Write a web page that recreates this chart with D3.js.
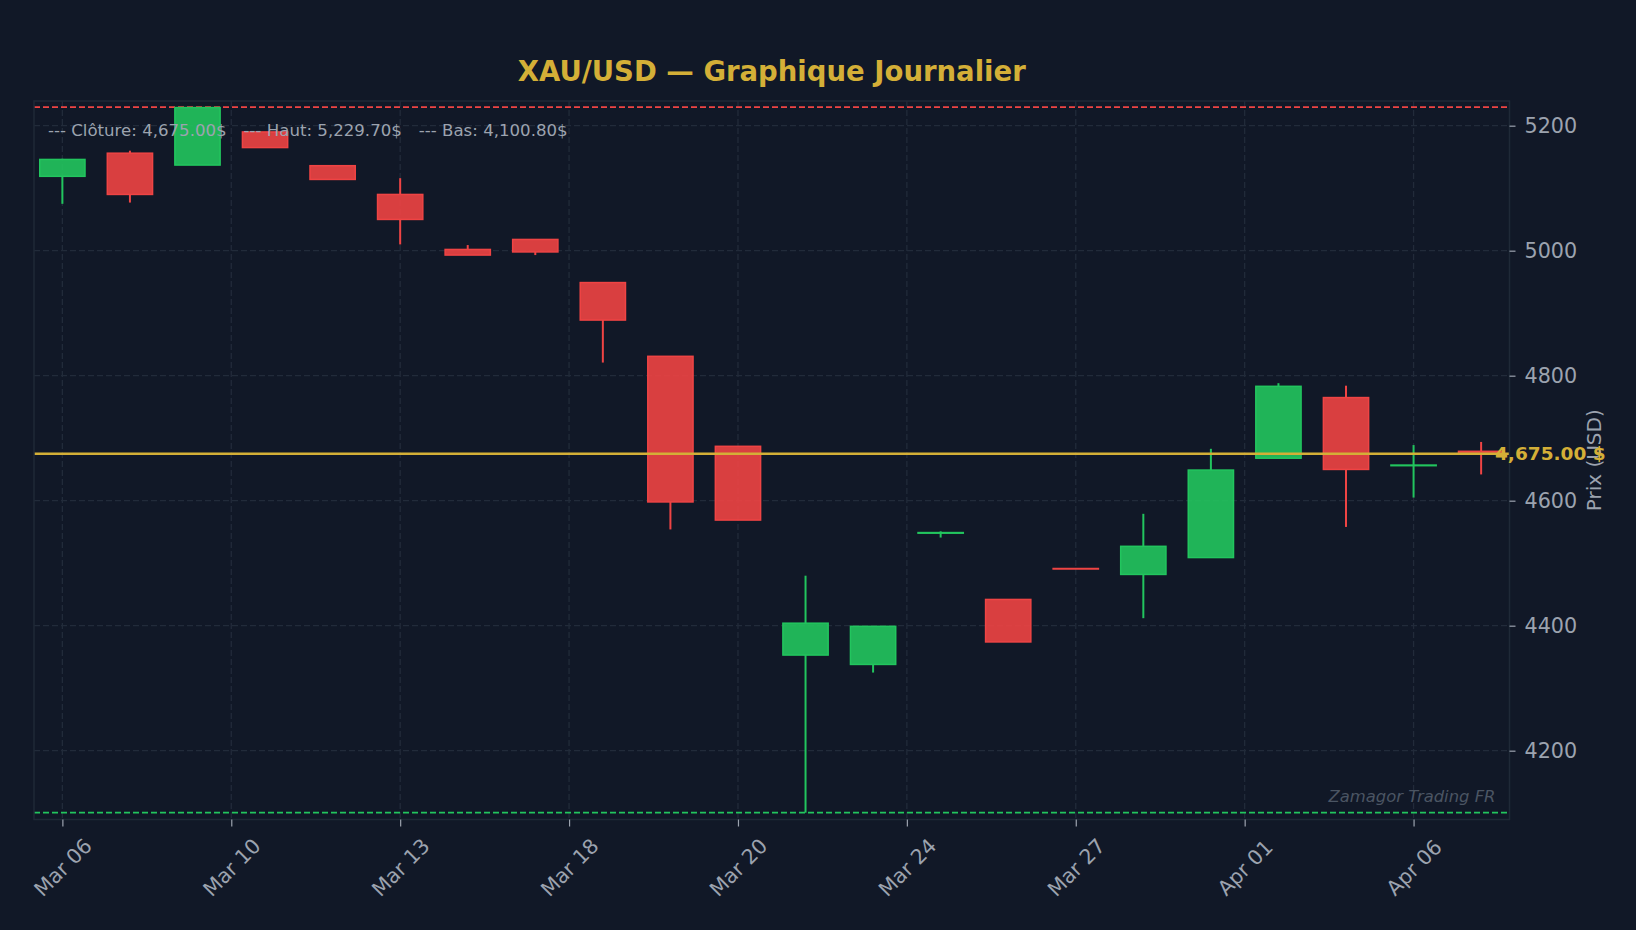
<!DOCTYPE html>
<html>
<head>
<meta charset="utf-8">
<script src="https://cdn.jsdelivr.net/npm/d3@7"></script>
<style>
  html, body { margin: 0; padding: 0; background: #111827; }
  svg { display: block; font-family: "DejaVu Sans", sans-serif; }
</style>
</head>
<body>
<svg id="chart"></svg>
<script>
// daily candles
const dates = ["Mar 06", "Mar 09", "Mar 10", "Mar 11", "Mar 12", "Mar 13", "Mar 16", "Mar 17", "Mar 18", "Mar 19", "Mar 20",
    "Mar 23", "Mar 24", "Mar 25", "Mar 26", "Mar 27", "Mar 30", "Mar 31", "Apr 01", "Apr 02", "Apr 06", "Apr 07"];
const opens = [5119, 5156, 5137, 5190, 5136, 5090, 5002, 5018, 4949, 4831, 4687,
    4353, 4338, 4548, 4442, 4491.5, 4482, 4509, 4668, 4765, 4656, 4679];
const highs = [5147, 5160, 5229.7, 5190, 5136, 5116, 5009, 5018, 4949, 4831, 4687,
    4480, 4399, 4551, 4442, 4491.5, 4579, 4683, 4788, 4784, 4689, 4694];
const lows = [5075, 5077, 5137, 5165, 5114, 5010, 4993, 4993, 4821, 4554, 4569,
    4100.8, 4325, 4541, 4374, 4491, 4412, 4509, 4668, 4558, 4605, 4642];
const closes = [5146, 5090, 5229, 5165, 5114, 5050, 4993, 4998, 4889, 4598, 4569,
    4404, 4399, 4549, 4374, 4491, 4527, 4649, 4783, 4650, 4657, 4675];

const xTickPos = [0, 2.5, 5, 7.5, 10, 12.5, 15, 17.5, 20];
const xTickLabels = ["Mar 06", "Mar 10", "Mar 13", "Mar 18", "Mar 20", "Mar 24", "Mar 27", "Apr 01", "Apr 06"];
const yTicks = [4200, 4400, 4600, 4800, 5000, 5200];

const lastClose = 4675.00;
const highMax = 5229.70;
const lowMin = 4100.80;

const up = "#22c55e", down = "#ef4444", gold = "#d4af37", txt = "#9ca3af";

const width = 1636, height = 930;
const margin = { top: 101, right: 126.5, bottom: 110.5, left: 34 };
const svg = d3.select("#chart").attr("width", width).attr("height", height);

svg.append("rect").attr("width", width).attr("height", height).attr("fill", "#111827");

const candles = dates.map((d, i) => ({ i, date: d, o: opens[i], h: highs[i], l: lows[i], c: closes[i] }));

const x = d3.scaleLinear().domain([-0.42, dates.length - 1 + 0.42]).range([margin.left, width - margin.right]);
const y = d3.scaleLinear().domain([4089.9, 5239.5]).range([height - margin.bottom, margin.top]);
const fmt = d3.format(",.2f");

const plotL = margin.left, plotR = width - margin.right, plotT = margin.top, plotB = height - margin.bottom;

// grid
const grid = svg.append("g");
grid.selectAll(".gy").data(yTicks).enter().append("line")
    .attr("x1", plotL).attr("x2", plotR)
    .attr("y1", d => y(d)).attr("y2", d => y(d))
    .attr("stroke", "#222b3a").attr("stroke-width", 1.3).attr("stroke-dasharray", "6,3");
grid.selectAll(".gx").data(xTickPos).enter().append("line")
    .attr("x1", d => x(d)).attr("x2", d => x(d))
    .attr("y1", plotT).attr("y2", plotB)
    .attr("stroke", "#222b3a").attr("stroke-width", 1.3).attr("stroke-dasharray", "6,3");

// high / low reference lines
svg.append("line").attr("x1", plotL).attr("x2", plotR).attr("y1", y(highMax)).attr("y2", y(highMax))
    .attr("stroke", down).attr("stroke-width", 1.7).attr("stroke-dasharray", "6,3");
svg.append("line").attr("x1", plotL).attr("x2", plotR).attr("y1", y(lowMin)).attr("y2", y(lowMin))
    .attr("stroke", up).attr("stroke-width", 1.7).attr("stroke-dasharray", "6,3");

// candles: wicks drawn only outside the body
const step = x(1) - x(0);
const bw = step * 0.67;
const col = d => d.c >= d.o ? up : down;
const cg = svg.append("g");
cg.selectAll(".wickHi").data(candles).enter().append("line")
    .attr("x1", d => x(d.i)).attr("x2", d => x(d.i))
    .attr("y1", d => y(d.h)).attr("y2", d => y(Math.max(d.o, d.c)))
    .attr("stroke", col).attr("stroke-width", 2);
cg.selectAll(".wickLo").data(candles).enter().append("line")
    .attr("x1", d => x(d.i)).attr("x2", d => x(d.i))
    .attr("y1", d => y(Math.min(d.o, d.c))).attr("y2", d => y(d.l))
    .attr("stroke", col).attr("stroke-width", 2);
cg.selectAll(".body").data(candles).enter().append("rect")
    .attr("x", d => x(d.i) - bw / 2)
    .attr("y", d => y(Math.max(d.o, d.c)))
    .attr("width", bw)
    .attr("height", d => Math.max(0.5, Math.abs(y(d.o) - y(d.c))))
    .attr("fill", col)
    .attr("fill-opacity", 0.9)
    .attr("stroke", col)
    .attr("stroke-width", 1.5);

// last close line
svg.append("line").attr("x1", plotL).attr("x2", plotR).attr("y1", y(lastClose)).attr("y2", y(lastClose))
    .attr("stroke", gold).attr("stroke-width", 2.5);

// frame
svg.append("rect").attr("x", plotL).attr("y", plotT).attr("width", plotR - plotL).attr("height", plotB - plotT)
    .attr("fill", "none").attr("stroke", "#1f2937").attr("stroke-width", 1.5);

// y axis on the right
const yAxis = svg.append("g").attr("transform", `translate(${plotR},0)`)
    .call(d3.axisRight(y).tickValues(yTicks).tickSize(6).tickPadding(9).tickFormat(d3.format("d")));
yAxis.select(".domain").remove();
yAxis.selectAll("line").attr("stroke", txt).attr("stroke-width", 1.2);
yAxis.selectAll("text").attr("fill", txt).style("font-size", "20.7px").style("font-family", "DejaVu Sans");

// x axis
const xAxis = svg.append("g").attr("transform", `translate(0,${plotB})`)
    .call(d3.axisBottom(x).tickValues(xTickPos).tickSize(7).tickFormat((d, i) => xTickLabels[i]));
xAxis.select(".domain").remove();
xAxis.selectAll("line").attr("stroke", txt).attr("stroke-width", 1.2);
xAxis.selectAll("text")
    .attr("fill", txt).style("font-size", "20.5px").style("font-family", "DejaVu Sans")
    .attr("y", 0).attr("dy", "0.35em")
    .attr("text-anchor", "middle")
    .attr("transform", "translate(0,48) rotate(-45)");

// axis label
svg.append("text")
    .attr("transform", `translate(1601,${(plotT + plotB) / 2}) rotate(-90)`)
    .attr("text-anchor", "middle")
    .attr("fill", txt).style("font-size", "20px")
    .text("Prix (USD)");

// last price tag
svg.append("text")
    .attr("x", 1495).attr("y", y(lastClose) + 6.5)
    .attr("fill", gold).style("font-size", "18.5px").style("font-weight", "bold")
    .text(`${fmt(lastClose)} $`);

// title
svg.append("text")
    .attr("x", (plotL + plotR) / 2).attr("y", 81)
    .attr("text-anchor", "middle")
    .attr("fill", gold).style("font-size", "27.5px").style("font-weight", "bold")
    .text("XAU/USD — Graphique Journalier");

// legend row
const legendItems = [
    `--- Clôture: ${fmt(lastClose)}$`,
    `--- Haut: ${fmt(highMax)}$`,
    `--- Bas: ${fmt(lowMin)}$`
];
let lx = 48;
legendItems.forEach(label => {
    const t = svg.append("text")
        .attr("x", lx).attr("y", 136)
        .attr("fill", txt).style("font-size", "16.6px")
        .text(label);
    lx += t.node().getComputedTextLength() + 17;
});

// watermark
svg.append("text")
    .attr("x", plotR - 14).attr("y", 801.5)
    .attr("text-anchor", "end")
    .attr("fill", "#4b5563").style("font-size", "16.4px").style("font-style", "italic")
    .text("Zamagor Trading FR");
</script>
</body>
</html>
